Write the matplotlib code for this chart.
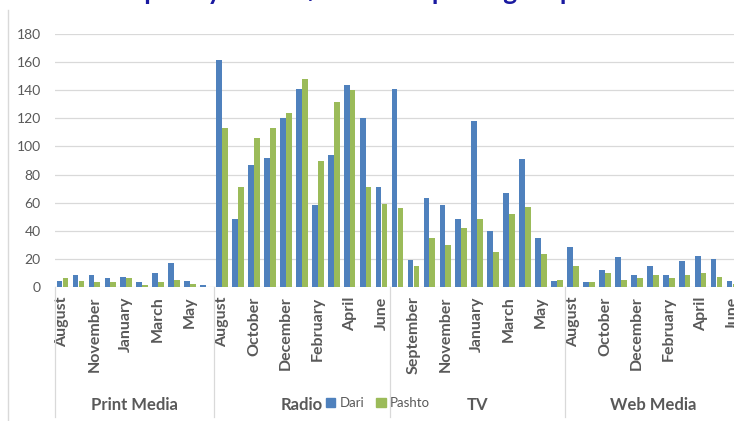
import matplotlib
matplotlib.use("Agg")
import matplotlib.pyplot as plt
from matplotlib.patches import Patch
from matplotlib.lines import Line2D
import numpy as np

plt.rcParams['font.family'] = ['Lato', 'DejaVu Sans']

# data (values per month, grouped by media type)
groups = ['Print Media', 'Radio', 'TV', 'Web Media']
print_months = ['August', 'October', 'November', 'December', 'January', 'February',
                'March', 'April', 'May', 'June']
radio_months = ['August', 'September', 'October', 'November', 'December', 'January',
                'February', 'March', 'April', 'May', 'June']
tv_months = radio_months
web_months = radio_months

print_dari = [4, 8, 8, 6, 7, 3, 10, 17, 4, 1]
print_pashto = [6, 4, 3, 3, 6, 1, 3, 5, 2, 0]
radio_dari = [162, 48, 87, 92, 120, 141, 58, 94, 144, 120, 71]
radio_pashto = [113, 71, 106, 113, 124, 148, 90, 132, 140, 71, 59]
tv_dari = [141, 19, 63, 58, 48, 118, 40, 67, 91, 35, 4]
tv_pashto = [56, 15, 35, 30, 42, 48, 25, 52, 57, 23, 5]
web_dari = [28, 3, 12, 21, 8, 15, 8, 18, 22, 20, 4]
web_pashto = [15, 3, 10, 5, 6, 8, 6, 8, 10, 7, 2]

months = print_months + radio_months + tv_months + web_months
dari = print_dari + radio_dari + tv_dari + web_dari
pashto = print_pashto + radio_pashto + tv_pashto + web_pashto
group_sizes = [len(print_months), len(radio_months), len(tv_months), len(web_months)]

BLUE = '#4F81BD'
GREEN = '#9BBB59'
GRAY = '#595959'
GRID = '#D9D9D9'

W, H = 734, 421
fig = plt.figure(figsize=(W / 100, H / 100), dpi=100)
# the chart is cut off at the right edge, so the axes run past the figure
ax = fig.add_axes([54.5 / W, (H - 286.7) / H, 686 / W, 252.4 / H])

x = np.arange(len(months))
bw = 0.36
ax.bar(x - 0.185, dari, bw, color=BLUE, zorder=3)
ax.bar(x + 0.185, pashto, bw, color=GREEN, zorder=3)

ax.set_xlim(-0.5, len(months) - 0.5)
ax.set_ylim(0, 180)
ax.set_yticks(range(0, 181, 20))
ax.yaxis.grid(True, color=GRID, linewidth=0.9, zorder=0)
for s in ax.spines.values():
    s.set_visible(False)
ax.tick_params(axis='y', length=0, pad=10, labelsize=10, labelcolor=GRAY)

ticks = x[::2]
ax.set_xticks(ticks)
ax.set_xticklabels([months[i] for i in ticks], rotation=90, fontweight='bold',
                   fontsize=11.5, color=GRAY, va='top')
ax.tick_params(axis='x', length=0, pad=7)

# category group dividers and labels below the axis
trans = ax.get_xaxis_transform()
edges = np.concatenate([[0], np.cumsum(group_sizes)]) - 0.5
for e in edges:
    ax.add_line(Line2D([e, e], [0, -0.516], transform=trans, color=GRID,
                       linewidth=0.9, clip_on=False))
for name, a, b in zip(groups, edges[:-1], edges[1:]):
    ax.text((a + b) / 2, -0.469, name, transform=trans, ha='center', va='center',
            fontsize=12, fontweight='bold', color=GRAY)

# chart border on the left
fig.add_artist(Line2D([8 / W, 8 / W], [0, (H - 10) / H], transform=fig.transFigure,
                      color=GRID, linewidth=1))

# title, mostly cut off at the top of the picture
fig.text(97 / W, 1.0, 'Frequency of Dari/Pashto reporting on platforms', ha='left',
         va='baseline', fontsize=19, fontweight='bold', color='#1A1AA0')

handles = [Patch(color=BLUE, label='Dari'), Patch(color=GREEN, label='Pashto')]
fig.legend(handles=handles, loc='center', bbox_to_anchor=(378 / W, (H - 403) / H),
           ncol=2, frameon=False, fontsize=9.5, labelcolor=GRAY, handlelength=0.7,
           handleheight=0.7, handletextpad=0.35, columnspacing=0.9,
           borderpad=0, borderaxespad=0)

fig.savefig('out.png', dpi=100)
